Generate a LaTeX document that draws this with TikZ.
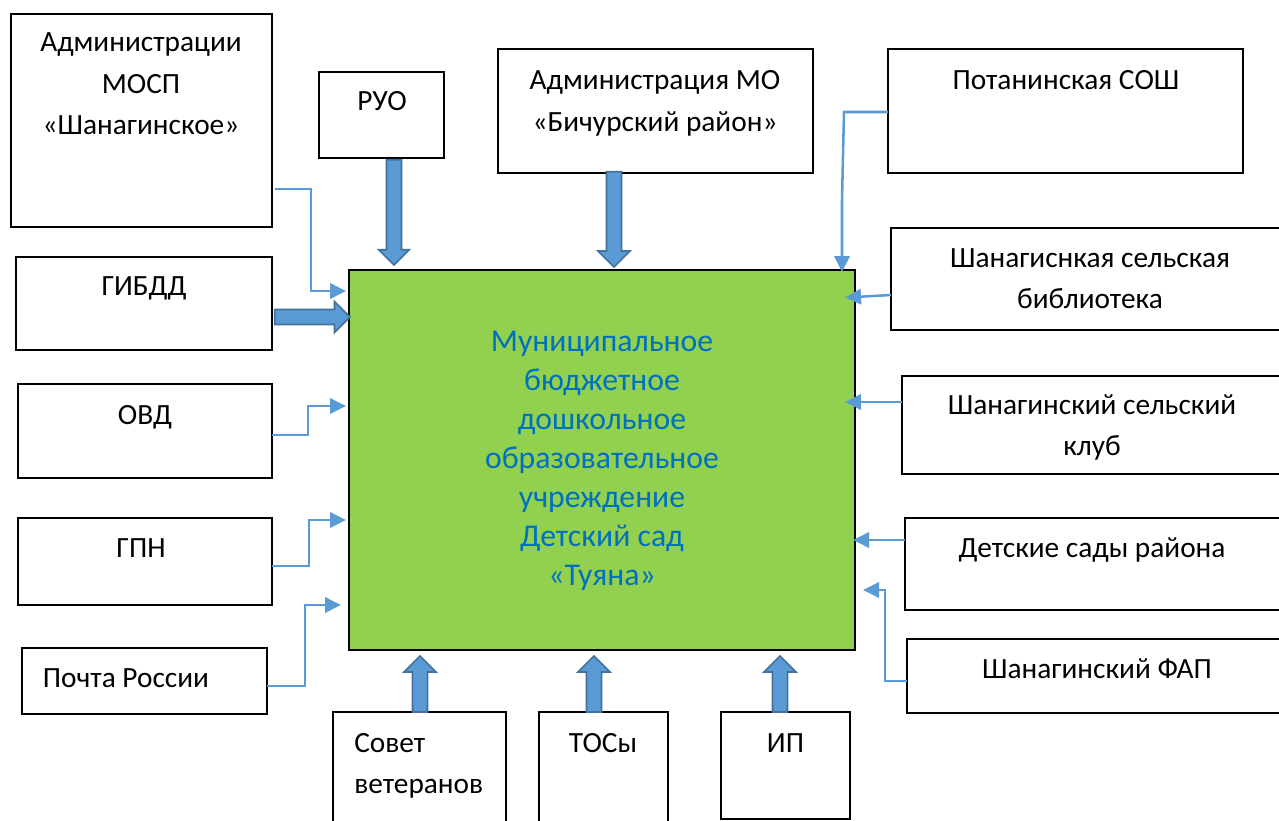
\documentclass[tikz,border=0pt]{standalone}
\usepackage{fontspec}
\setmainfont{Carlito}
\usetikzlibrary{shapes.arrows,arrows.meta}
\definecolor{arrowfill}{HTML}{5B9BD5}
\definecolor{arrowedge}{HTML}{41719C}
\definecolor{coregreen}{HTML}{92D050}
\definecolor{coretext}{HTML}{0070C0}
\tikzset{
  x=0.75pt,y=-0.75pt,
  boxnode/.style={draw=black,line width=1.5pt,fill=white,inner sep=0pt,outer sep=0pt,anchor=north west},
  lbl/.style={inner sep=0pt,align=center,font=\fontsize{22}{31}\selectfont},
  blockarrow/.style={single arrow,draw=arrowedge,fill=arrowfill,line width=1.3pt,
    inner sep=0pt,outer sep=0pt,single arrow head extend=6pt,single arrow tip angle=90,anchor=tip,
    minimum width=22pt,inner ysep=5pt},
  thinarrow/.style={draw=arrowfill,line width=1.9pt,
    -{Triangle[length=12pt,width=11.5pt,fill=arrowfill]}},
}
\newcommand{\boxat}[5]{\node[boxnode,minimum width=#4*0.75pt-#2*0.75pt,minimum height=#5*0.75pt-#3*0.75pt] (#1) at (#2,#3) {};}
\begin{document}
\begin{tikzpicture}
\useasboundingbox (0,0) rectangle (1279,821);
\clip (0,0) rectangle (1279,821);
\boxat{admin}{11}{14}{272}{227}
\boxat{ruo}{319}{72}{444}{158}
\boxat{mo}{498}{49}{813}{173}
\boxat{sosh}{888}{49}{1243}{173}
\boxat{gibdd}{16}{257}{272}{350}
\boxat{ovd}{18}{384}{272}{478}
\boxat{gpn}{18}{518}{272}{605}
\boxat{pochta}{22}{648}{267}{714}
\boxat{sovet}{333}{712}{506}{840}
\boxat{tos}{539}{712}{668}{840}
\boxat{ip}{721}{712}{850}{819}
\boxat{lib}{891}{228}{1295}{330}
\boxat{club}{902}{376}{1295}{474}
\boxat{sady}{905}{518}{1295}{610}
\boxat{fap}{907}{639}{1295}{713}
\node[boxnode,fill=coregreen,minimum width=379.5pt,minimum height=285pt] (core) at (349,270) {};

\node[lbl,text=coretext,font=\fontsize{23.8}{29.25}\selectfont] (coretxt) at (602,461) {Муниципальное\\бюджетное\\дошкольное\\образовательное\\учреждение\\Детский сад\\«Туяна»};
\node[lbl] (tadmin) at (141,84) {Администрации\\МОСП\\«Шанагинское»};
\node[lbl] (truo) at (382,101) {РУО};
\node[lbl] (tmo) at (655,103.5) {Администрация МО\\«Бичурский район»};
\node[lbl] (tsosh) at (1066,80) {Потанинская СОШ};
\node[lbl] (tlib) at (1090,278.5) {Шанагиснкая сельская\\библиотека};
\node[lbl] (tgibdd) at (144,288) {ГИБДД};
\node[lbl] (tovd) at (145,417) {ОВД};
\node[lbl] (tgpn) at (141,548) {ГПН};
\node[lbl] (tpochta) at (126,678) {Почта России};
\node[lbl,align=left,anchor=west] (tsovet) at (354,766) {Совет\\ветеранов};
\node[lbl] (ttos) at (603,743) {ТОСы};
\node[lbl] (tip) at (785.5,743) {ИП};
\node[lbl] (tclub) at (1092,427.5) {Шанагинский сельский\\клуб};
\node[lbl] (tsady) at (1092,550) {Детские сады района};
\node[lbl] (tfap) at (1097,669) {Шанагинский ФАП};

% block arrows
\node[blockarrow,rotate=-90,minimum height=79pt,minimum width=21.5pt,single arrow head extend=5.75pt] (aruo) at (394,265) {};
\node[blockarrow,rotate=-90,minimum height=71.5pt,minimum width=22.7pt,single arrow head extend=6.3pt] (amo) at (614,267) {};
\node[blockarrow,minimum height=56.5pt] (agibdd) at (350,317) {};
\node[blockarrow,rotate=90,minimum height=42pt,minimum width=22.7pt,single arrow head extend=6.3pt] (asovet) at (420,656) {};
\node[blockarrow,rotate=90,minimum height=42pt,minimum width=22.7pt,single arrow head extend=6.3pt] (atos) at (594,656) {};
\node[blockarrow,rotate=90,minimum height=42pt,minimum width=22.7pt,single arrow head extend=6.3pt] (aip) at (780,656) {};

% thin arrows
\draw[thinarrow,shorten <=2.25pt,shorten >=2.25pt] (admin.east |- 0,189) -- (311,189) -- (311,291) -- (core.west |- 0,291);
\draw[thinarrow,shorten >=2.25pt] (ovd.east |- 0,435) -- (308,435) -- (308,406) -- (core.west |- 0,406);
\draw[thinarrow,shorten >=2.25pt] (gpn.east |- 0,566) -- (309,566) -- (309,520) -- (core.west |- 0,520);
\draw[thinarrow,shorten >=6pt] (pochta.east |- 0,686) -- (305,686) -- (305,605) -- (core.west |- 0,605);
\draw[thinarrow,shorten >=-1.5pt] (sosh.west |- 0,112) -- (844,112) -- (842,200) -- (842,270);
\draw[thinarrow,shorten >=-7.5pt] (lib.west |- 0,295) -- (core.east |- 0,297);
\draw[thinarrow,shorten >=-7.5pt] (club.west |- 0,402) -- (core.east |- 0,402);
\draw[thinarrow,shorten >=-1.5pt] (sady.west |- 0,540) -- (core.east |- 0,540);
\draw[thinarrow] (fap.west |- 0,681) -- (885,681) -- (885,590) -- (863,590);
\end{tikzpicture}
\end{document}
